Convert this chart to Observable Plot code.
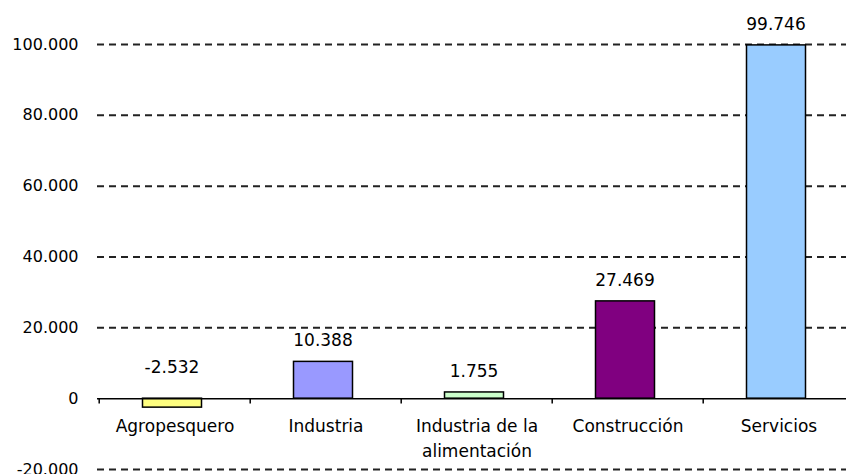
<!DOCTYPE html>
<html><head><meta charset="utf-8">
<script src="https://cdn.jsdelivr.net/npm/d3@7"></script>
<script src="https://cdn.jsdelivr.net/npm/@observablehq/plot@0.6"></script>
<style>body{margin:0;background:#fff;overflow:hidden}</style>
</head><body><div id="chart"></div>
<script>
const categories = ["Agropesquero", "Industria", "Industria de la\nalimentación", "Construcción", "Servicios"];
const values = [-2532, 10388, 1755, 27469, 99746];
const colors = ["#FFFF80", "#9999FF", "#CCFFCC", "#800080", "#99CCFF"];
const yTicks = [-20000, 0, 20000, 40000, 60000, 80000, 100000];

const data = categories.map((c, i) => ({cat: c, value: values[i], color: colors[i]}));
const fmt = d3.formatLocale({thousands: ".", decimal: ",", grouping: [3], currency: ["", ""], minus: "-"}).format(",d");

const W = 846, ML = 97, MR = -9;
const step = (W - ML - MR) / categories.length;

const chart = Plot.plot({
  width: W, height: 474,
  marginLeft: ML, marginRight: MR, marginTop: 44, marginBottom: 5,
  style: {fontFamily: "DejaVu Sans, sans-serif", fontSize: "16px", color: "#000", background: "#fff"},
  x: {domain: categories, paddingInner: 0.61, paddingOuter: 0.305, axis: null},
  y: {domain: [-20000, 100000]},
  marks: [
    Plot.ruleY(yTicks.filter(d => d !== 0), {stroke: "#222", strokeWidth: 2, strokeDasharray: "7,5"}),
    Plot.barY(data, {x: "cat", y: "value", fill: "color", stroke: "#000", strokeWidth: 1.5, dx: -2.5}),
    Plot.ruleY([0], {stroke: "#000", strokeWidth: 1.5}),
    Plot.ruleX(categories, {x: d => d, dx: -step / 2, y1: 0, y2: -1500, stroke: "#000", strokeWidth: 1.5}),
    Plot.text(categories, {x: d => d, y: 0, dy: 16, lineAnchor: "top", lineHeight: 1.45, fontSize: 17, fill: "#000"}),
    Plot.text(data.filter(d => d.value >= 0), {x: "cat", y: "value", text: d => fmt(d.value), dx: -3, dy: -21, fontSize: 17, fill: "#000"}),
    Plot.text(data.filter(d => d.value < 0), {x: "cat", y: 0, text: d => fmt(d.value), dx: -3, dy: -31, fontSize: 17, fill: "#000"}),
    Plot.axisY({ticks: yTicks, tickSize: 0, tickPadding: 19, tickFormat: fmt, label: null, fontSize: 16})
  ]
});
document.getElementById("chart").appendChild(chart);
</script>
</body></html>
